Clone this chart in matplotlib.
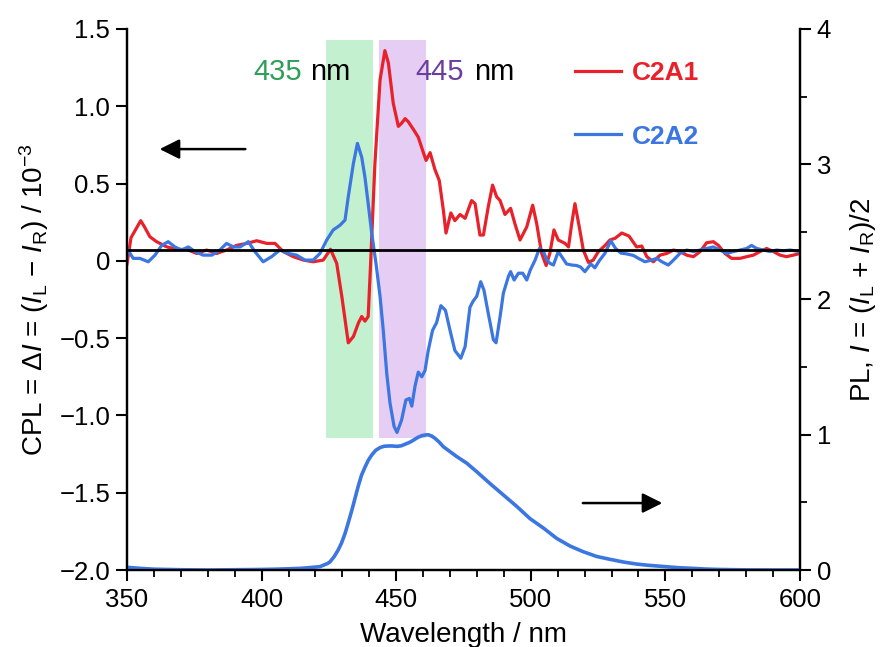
import numpy as np
import matplotlib
matplotlib.use("Agg")
import matplotlib.pyplot as plt
from matplotlib.ticker import MultipleLocator, FixedLocator, FuncFormatter

plt.rcParams['font.family'] = ['Liberation Sans', 'DejaVu Sans']
plt.rcParams['mathtext.fontset'] = 'custom'
plt.rcParams['mathtext.rm'] = 'Liberation Sans'
plt.rcParams['mathtext.it'] = 'Liberation Sans:italic'
plt.rcParams['mathtext.bf'] = 'Liberation Sans:bold'

# CPL of C2A1 (red)
wl_c2a1 = [350.0, 351.5, 355.1, 356.5, 358.5, 361.0, 364.7, 368.5, 372.2, 375.9,
           379.6, 383.3, 387.0, 390.7, 394.5, 398.2, 401.9, 405.0, 408.1, 411.8,
           415.5, 419.2, 422.9, 425.6, 427.9, 429.8, 432.2, 434.1, 436.0, 437.2,
           438.4, 439.6, 440.5, 442.1, 444.0, 445.8, 447.1, 448.9, 450.8, 452.0,
           453.3, 454.5, 456.4, 458.2, 460.1, 461.1, 462.6, 464.4, 466.0, 467.5,
           468.5, 470.3, 471.8, 473.7, 475.6, 478.0, 479.3, 481.1, 482.4, 484.2,
           485.8, 487.3, 488.6, 490.4, 492.5, 494.1, 496.0, 498.5, 500.7, 502.2,
           504.0, 505.7, 507.1, 508.6, 510.2, 512.7, 514.0, 515.2, 516.4, 518.0,
           519.5, 521.4, 523.2, 525.1, 527.6, 529.4, 531.3, 533.8, 536.5, 539.3,
           541.2, 543.1, 545.5, 548.0, 550.5, 553.0, 555.4, 557.9, 560.4, 562.9,
           565.3, 567.8, 569.7, 572.1, 574.6, 577.7, 580.2, 582.7, 585.1, 587.6,
           590.1, 592.6, 595.0, 597.5, 600.0]
cpl_c2a1 = [-0.02, 0.15, 0.26, 0.22, 0.156, 0.124, 0.091, 0.074, 0.074, 0.048,
            0.07, 0.048, 0.07, 0.10, 0.113, 0.13, 0.113, 0.113, 0.059, 0.027,
            0.005, -0.006, 0.005, 0.075, -0.016, -0.23, -0.53, -0.49, -0.40, -0.36,
            -0.39, -0.36, -0.016, 0.63, 1.17, 1.36, 1.28, 1.02, 0.87, 0.89,
            0.92, 0.90, 0.85, 0.80, 0.70, 0.65, 0.70, 0.59, 0.52, 0.33,
            0.18, 0.31, 0.26, 0.30, 0.275, 0.39, 0.37, 0.167, 0.167, 0.35,
            0.49, 0.415, 0.39, 0.30, 0.34, 0.24, 0.135, 0.22, 0.36, 0.24,
            0.05, -0.03, 0.05, 0.20, 0.135, 0.113, 0.09, 0.24, 0.37, 0.22,
            0.07, -0.01, 0.005, 0.06, 0.10, 0.135, 0.146, 0.18, 0.16, 0.09,
            0.096, 0.027, -0.006, 0.037, 0.048, 0.07, 0.06, 0.037, 0.027, 0.06,
            0.117, 0.124, 0.10, 0.048, 0.016, 0.016, 0.027, 0.037, 0.06, 0.08,
            0.06, 0.037, 0.027, 0.037, 0.048]

# CPL of C2A2 (blue)
wl_c2a2 = [350.0, 352.3, 354.8, 357.9, 360.4, 362.9, 365.3, 367.8, 370.3, 372.8,
           375.3, 378.3, 381.5, 384.5, 387.0, 389.5, 392.0, 395.1, 397.5, 400.6,
           403.7, 406.8, 409.9, 413.0, 416.1, 419.2, 421.7, 424.2, 426.6, 429.1,
           431.0, 432.2, 434.1, 435.6, 437.2, 438.4, 439.6, 440.9, 442.5, 444.0,
           445.2, 446.5, 447.7, 449.2, 450.3, 452.0, 453.6, 454.9, 455.8, 457.0,
           458.2, 459.5, 460.7, 461.9, 463.5, 465.0, 466.6, 468.3, 470.0, 471.8,
           474.0, 475.6, 477.4, 478.6, 479.9, 481.4, 482.6, 484.2, 486.1, 487.1,
           488.6, 489.8, 491.7, 492.5, 493.8, 495.4, 497.0, 498.5, 499.8, 501.6,
           503.2, 504.7, 506.0, 507.1, 508.4, 510.2, 511.5, 513.3, 515.2, 517.0,
           518.5, 520.1, 522.3, 523.8, 525.4, 527.6, 529.7, 531.5, 533.5, 535.6,
           538.1, 540.0, 542.4, 544.9, 546.8, 548.7, 551.1, 553.0, 555.4, 557.9,
           560.4, 562.9, 565.3, 567.8, 570.3, 572.8, 575.2, 577.7, 580.2, 582.0,
           583.9, 586.4, 588.9, 591.3, 593.8, 596.3, 600.0]
cpl_c2a2 = [0.08, 0.016, 0.016, -0.006, 0.037, 0.10, 0.124, 0.09, 0.07, 0.09,
            0.06, 0.037, 0.037, 0.07, 0.113, 0.09, 0.09, 0.124, 0.06, -0.006,
            0.027, 0.07, 0.048, 0.037, 0.005, 0.005, 0.048, 0.135, 0.20, 0.23,
            0.264, 0.415, 0.63, 0.76, 0.67, 0.54, 0.37, 0.18, -0.016, -0.23,
            -0.45, -0.73, -0.92, -1.07, -1.11, -1.03, -0.90, -0.89, -0.94, -0.81,
            -0.72, -0.75, -0.71, -0.58, -0.45, -0.40, -0.29, -0.32, -0.45, -0.58,
            -0.63, -0.555, -0.30, -0.26, -0.23, -0.135, -0.19, -0.34, -0.51, -0.53,
            -0.36, -0.21, -0.10, -0.07, -0.124, -0.08, -0.08, -0.124, -0.06, 0.005,
            0.08, 0.06, 0.005, -0.016, -0.027, 0.06, 0.027, -0.02, -0.027, -0.03,
            -0.04, -0.07, -0.02, -0.045, 0.0, 0.05, 0.13, 0.08, 0.05, 0.045,
            0.035, 0.016, -0.006, 0.005, 0.016, -0.006, -0.027, 0.005, 0.048, 0.07,
            0.06, 0.07, 0.08, 0.09, 0.07, 0.048, 0.06, 0.07, 0.08, 0.10,
            0.08, 0.07, 0.06, 0.07, 0.065, 0.07, 0.06]

# PL spectrum (right axis)
wl_pl = [350, 355, 360, 370, 380, 390, 400, 405, 410, 414.3, 418, 421.7, 423.5,
         424.5, 425.4, 426.2, 427, 428.5, 429.7, 431, 432.2, 433.5, 434.7, 435.9,
         437.1, 438.4, 439.6, 440.9, 442.4, 444, 445.5, 447.1, 448.6, 450.2,
         451.8, 453.3, 454.9, 456.4, 458, 459.5, 460.7, 461.9, 463.2, 464.4,
         466, 467.5, 470, 472.4, 476.2, 479.9, 484.8, 489.8, 494.8, 499.7, 504.7,
         509.6, 514.6, 519.5, 524.5, 529.4, 534.4, 539.3, 543.6, 549.9, 555,
         560.4, 565, 570, 580, 590, 600]
pl = [0.02, 0.012, 0.006, 0.002, 0.0, 0.002, 0.004, 0.006, 0.009, 0.012, 0.018,
      0.025, 0.04, 0.048, 0.06, 0.08, 0.10, 0.15, 0.20, 0.27, 0.35, 0.44, 0.53,
      0.62, 0.70, 0.76, 0.81, 0.85, 0.885, 0.905, 0.915, 0.917, 0.917, 0.914,
      0.918, 0.93, 0.943, 0.96, 0.98, 0.993, 0.998, 1.0, 0.99, 0.974, 0.945,
      0.912, 0.875, 0.84, 0.79, 0.727, 0.64, 0.555, 0.47, 0.38, 0.31, 0.234,
      0.177, 0.135, 0.10, 0.079, 0.059, 0.044, 0.035, 0.025, 0.017, 0.012,
      0.007, 0.004, 0.001, 0.0, 0.0]

band_435 = [423.8, 441.3]
band_445 = [443.5, 461.1]
band_cpl = [-1.146, 1.43]
baseline = 0.07

red = '#e8212a'
blue = '#3b76e1'

fig = plt.figure(figsize=(8.8, 6.47), dpi=100)
ax = fig.add_axes([0.1443, 0.119, 0.7648, 0.8362])
ax2 = ax.twinx()

ax.fill_between(band_435, band_cpl[0], band_cpl[1], color='#c3f0ce', lw=0, zorder=0)
ax.fill_between(band_445, band_cpl[0], band_cpl[1], color='#e5cdf3', lw=0, zorder=0)

ax.plot(wl_c2a1, cpl_c2a1, color=red, lw=2.3, label='C2A1', zorder=3)
ax.plot(wl_c2a2, cpl_c2a2, color=blue, lw=2.3, label='C2A2', zorder=3)
ax.axhline(baseline, color='k', lw=2, zorder=4)
ax2.plot(wl_pl, pl, color=blue, lw=2.6)

ax.set_xlim(350, 600)
ax.set_ylim(-2.0, 1.5)
ax2.set_ylim(0, 4)

for a in (ax, ax2):
    a.spines['top'].set_visible(False)
    a.spines['left'].set_linewidth(1.6)
    a.spines['right'].set_linewidth(1.6)
    a.spines['bottom'].set_linewidth(1.6)

ax.xaxis.set_major_locator(MultipleLocator(50))
ax.xaxis.set_minor_locator(MultipleLocator(10))
ax.yaxis.set_major_locator(FixedLocator([-2.0, -1.5, -1.0, -0.5, 0, 0.5, 1.0, 1.5]))
ax.yaxis.set_major_formatter(FuncFormatter(
    lambda v, p: '0' if abs(v) < 1e-9 else ('%.1f' % v).replace('-', '\u2212')))
ax2.yaxis.set_major_locator(MultipleLocator(1))
ax2.yaxis.set_minor_locator(MultipleLocator(0.5))

ax.tick_params(axis='x', which='major', direction='out', length=8, width=1.5, labelsize=18.5, pad=5)
ax.tick_params(axis='x', which='minor', direction='out', length=5, width=1.3)
ax.tick_params(axis='y', which='major', direction='out', length=8, width=1.5, labelsize=18.5, pad=4)
ax2.tick_params(axis='y', which='major', direction='out', length=8, width=1.5, labelsize=18.5, pad=4)
ax2.tick_params(axis='y', which='minor', direction='out', length=5, width=1.3)

ax.set_xlabel('Wavelength / nm', fontsize=20, labelpad=7)
ax.set_ylabel(r'CPL = $\mathit{\Delta I}$ = ($I_{\rm L}$ $-$ $I_{\rm R}$) / 10$^{-3}$',
              fontsize=20, labelpad=6)
ax2.set_ylabel(r'PL, $I$ = ($I_{\rm L}$ + $I_{\rm R}$)/2', fontsize=20,
               rotation=90, labelpad=12)

# band labels
ax.text(396.8, 1.22, '435', color='#2e9e5a', fontsize=21, va='center', ha='left')
ax.text(418.0, 1.22, 'nm', color='k', fontsize=21, va='center', ha='left')
ax.text(457.0, 1.22, '445', color='#6a3e9e', fontsize=21, va='center', ha='left')
ax.text(479.0, 1.22, 'nm', color='k', fontsize=21, va='center', ha='left')

# arrows pointing to each axis
ax.annotate('', xy=(361.1, 0.723), xytext=(395.0, 0.723),
            arrowprops=dict(arrowstyle='-|>', color='k', lw=1.8, mutation_scale=30))
ax2.annotate('', xy=(549.9, 0.495), xytext=(518.3, 0.495),
             arrowprops=dict(arrowstyle='-|>', color='k', lw=1.8, mutation_scale=30))

leg = ax.legend(loc='upper left', bbox_to_anchor=(0.6534, 0.9057),
                bbox_transform=fig.transFigure, frameon=False,
                handlelength=1.75, handletextpad=0.4, labelspacing=1.5,
                borderpad=0, borderaxespad=0, labelcolor='linecolor',
                prop={'weight': 'bold', 'size': 19})

fig.savefig('out.png', dpi=100)
